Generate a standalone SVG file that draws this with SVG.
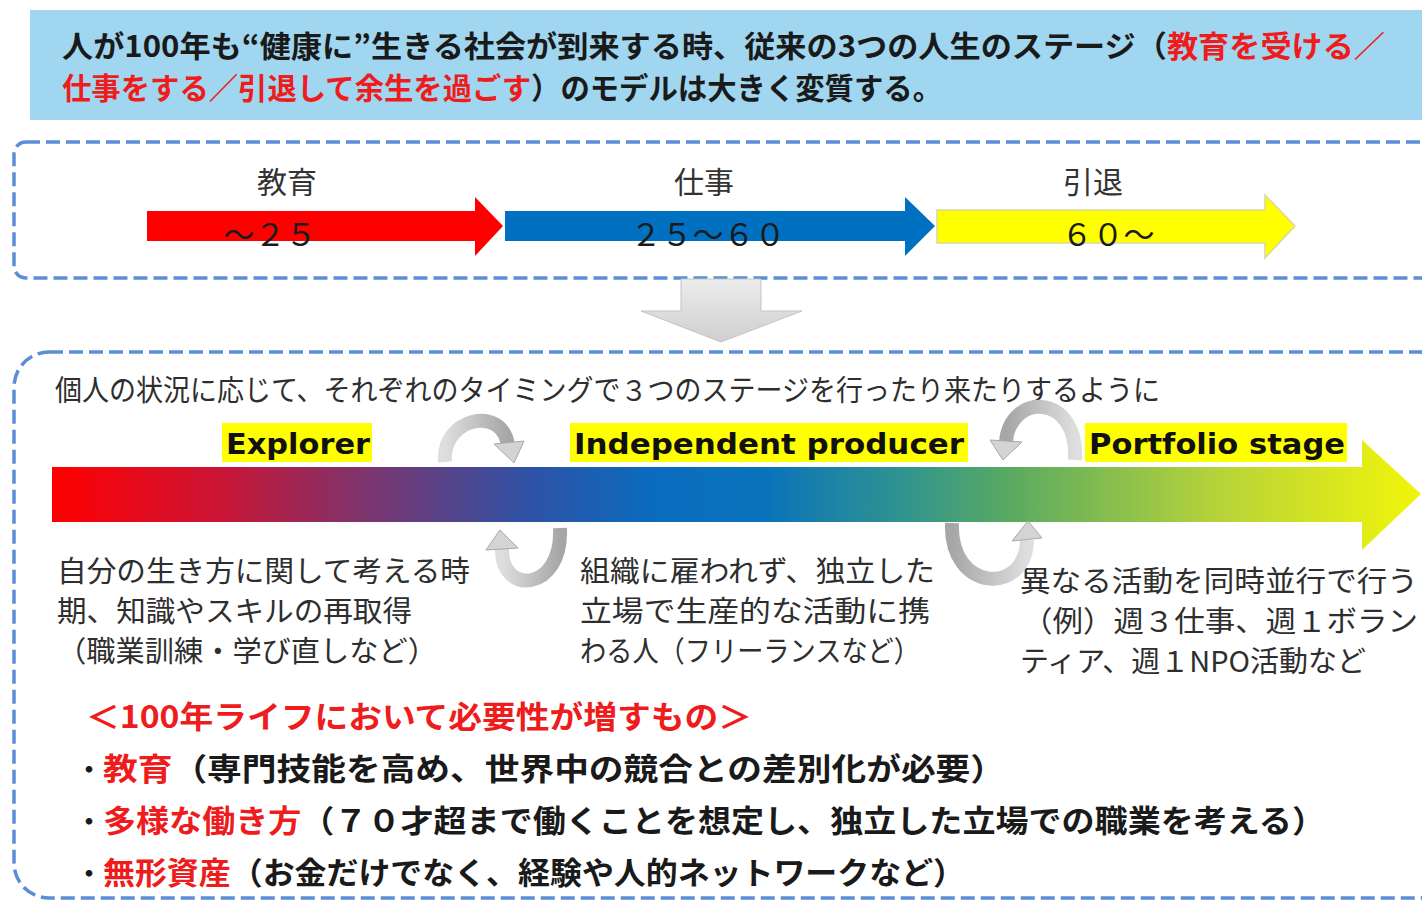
<svg xmlns="http://www.w3.org/2000/svg" width="1422" height="901" viewBox="0 0 1422 901">
<style>
.ban{font-family:"Noto Sans CJK JP",sans-serif;font-weight:700;font-size:30px;fill:#1a1a1a}
.lbl{font-family:"Noto Sans CJK JP",sans-serif;font-size:30px;fill:#333}
.num{font-family:"Noto Sans CJK JP",sans-serif;font-size:31px;fill:#1a1a1a}
.body{font-family:"Noto Sans CJK JP",sans-serif;font-size:29px;fill:#2e2e2e}
.en{font-family:"DejaVu Sans","Liberation Sans",sans-serif;font-weight:700;font-size:29px;fill:#111}
.hl{fill:#ffff00}
.bold{font-family:"Noto Sans CJK JP",sans-serif;font-weight:700;font-size:31px;fill:#1a1a1a}
.dot{font-family:"Noto Sans CJK JP",sans-serif;font-weight:700;font-size:26px;fill:#1a1a1a}
.dash{fill:none;stroke:#5b8ed6;stroke-width:3.5;stroke-dasharray:14 6}
.curve{fill:none;stroke-width:14}
.head{fill:#d4d4d4;stroke:#a8a8a8;stroke-width:1}
.red{fill:#ee1c1c}
</style>
<defs>
<linearGradient id="bar" x1="52" y1="0" x2="1420" y2="0" gradientUnits="userSpaceOnUse">
<stop offset="0" stop-color="#ff0000"/>
<stop offset="0.12" stop-color="#cc1434"/>
<stop offset="0.23" stop-color="#7c356e"/>
<stop offset="0.35" stop-color="#2e52a6"/>
<stop offset="0.44" stop-color="#0a6cbe"/>
<stop offset="0.52" stop-color="#0a72bc"/>
<stop offset="0.62" stop-color="#2f9390"/>
<stop offset="0.70" stop-color="#5aaa62"/>
<stop offset="0.85" stop-color="#b5d23a"/>
<stop offset="1" stop-color="#f2f50a"/>
</linearGradient>
<linearGradient id="gdown" x1="0" y1="0" x2="0" y2="1">
<stop offset="0" stop-color="#ececec"/>
<stop offset="1" stop-color="#cfcfcf"/>
</linearGradient>
<linearGradient id="gcL" x1="0" y1="0" x2="1" y2="0">
<stop offset="0" stop-color="#a6a6a6"/>
<stop offset="1" stop-color="#dedede"/>
</linearGradient>
<linearGradient id="gcR" x1="1" y1="0" x2="0" y2="0">
<stop offset="0" stop-color="#a6a6a6"/>
<stop offset="1" stop-color="#dedede"/>
</linearGradient>
</defs>

<g id="banner">
<rect x="30" y="10" width="1400" height="110" fill="#a0d6ef"/>
<text class="ban" x="62" y="57" textLength="1323" lengthAdjust="spacingAndGlyphs">人が100年も“健康に”生きる社会が到来する時、従来の3つの人生のステージ（<tspan class="red">教育を受ける／</tspan></text>
<text class="ban" x="62" y="99" textLength="880" lengthAdjust="spacingAndGlyphs"><tspan class="red">仕事をする／引退して余生を過ごす</tspan>）のモデルは大きく変質する。</text>
</g>

<g id="traditional-box">
<rect class="dash" x="14" y="142" width="1440" height="136" rx="12"/>
</g>

<g id="stage-education">
<polygon points="147,211 475,211 475,197 503,226 475,256 475,241 147,241" fill="#ff0000"/>
<text class="lbl" x="287" y="193" text-anchor="middle">教育</text>
<text class="num" x="270" y="246" text-anchor="middle">～２５</text>
</g>
<g id="stage-work">
<polygon points="505,211 905,211 905,197 935,226 905,256 905,241 505,241" fill="#0070c0"/>
<text class="lbl" x="704" y="193" text-anchor="middle">仕事</text>
<text class="num" x="708" y="246" text-anchor="middle">２５～６０</text>
</g>
<g id="stage-retire">
<polygon points="937,210 1265,210 1265,195 1295,226 1265,258 1265,243 937,243" fill="#ffff00" stroke="#d8d8a0" stroke-width="1.5"/>
<text class="lbl" x="1093" y="193" text-anchor="middle">引退</text>
<text class="num" x="1108" y="246" text-anchor="middle">６０～</text>
</g>

<g id="down-arrow">
<polygon points="681,279 761,279 761,311 802,311 721,342 641,311 681,311" fill="url(#gdown)" stroke="#c4c4c4" stroke-width="1"/>
</g>

<g id="new-model-box">
<rect class="dash" x="14" y="352" width="1440" height="546" rx="35"/>
<text class="body" x="55" y="401" textLength="1105" lengthAdjust="spacingAndGlyphs">個人の状況に応じて、それぞれのタイミングで３つのステージを行ったり来たりするように</text>
</g>

<g id="gradient-bar">
<polygon points="52,467 1362,467 1362,440 1421,494 1362,550 1362,522 52,522" fill="url(#bar)"/>
</g>

<g id="explorer">
<rect class="hl" x="222" y="423" width="150" height="39"/>
<text class="en" x="226" y="454" textLength="144" lengthAdjust="spacingAndGlyphs">Explorer</text>
<text class="body" x="57" y="582" textLength="413" lengthAdjust="spacingAndGlyphs">自分の生き方に関して考える時</text>
<text class="body" x="57" y="622" textLength="355" lengthAdjust="spacingAndGlyphs">期、知識やスキルの再取得</text>
<text class="body" x="57" y="662" textLength="380" lengthAdjust="spacingAndGlyphs">（職業訓練・学び直しなど）</text>
</g>

<g id="independent-producer">
<rect class="hl" x="570" y="423" width="398" height="39"/>
<text class="en" x="574" y="454" textLength="390" lengthAdjust="spacingAndGlyphs">Independent producer</text>
<text class="body" x="580" y="582" textLength="355" lengthAdjust="spacingAndGlyphs">組織に雇われず、独立した</text>
<text class="body" x="580" y="622" textLength="350" lengthAdjust="spacingAndGlyphs">立場で生産的な活動に携</text>
<text class="body" x="580" y="662" textLength="340" lengthAdjust="spacingAndGlyphs">わる人（フリーランスなど）</text>
</g>

<g id="portfolio-stage">
<rect class="hl" x="1085" y="423" width="262" height="39"/>
<text class="en" x="1089" y="454" textLength="256" lengthAdjust="spacingAndGlyphs">Portfolio stage</text>
<text class="body" x="1020" y="592" textLength="398" lengthAdjust="spacingAndGlyphs">異なる活動を同時並行で行う</text>
<text class="body" x="1022" y="632" textLength="396" lengthAdjust="spacingAndGlyphs">（例）週３仕事、週１ボラン</text>
<text class="body" x="1020" y="672" textLength="346" lengthAdjust="spacingAndGlyphs">ティア、週１NPO活動など</text>
</g>

<g id="connectors">
<path class="curve" stroke="url(#gcR)" d="M445,462 C441,418 503,404 508,446"/>
<polygon class="head" points="494,444 524,441 514,463"/>
<path class="curve" stroke="url(#gcR)" d="M560,528 C563,592 500,596 502,548"/>
<polygon class="head" points="486,550 518,548 500,530"/>
<path class="curve" stroke="url(#gcL)" d="M1075,460 C1079,393 1010,392 1006,442"/>
<polygon class="head" points="990,440 1022,442 1003,460"/>
<path class="curve" stroke="url(#gcL)" d="M952,523 C949,592 1026,596 1027,540"/>
<polygon class="head" points="1012,541 1042,538 1028,521"/>
</g>

<g id="needs">
<text class="bold red" x="86" y="728" textLength="666" lengthAdjust="spacingAndGlyphs">＜100年ライフにおいて必要性が増すもの＞</text>
<text class="dot" x="76" y="779">・</text>
<text class="bold" x="103" y="780" textLength="902" lengthAdjust="spacingAndGlyphs"><tspan class="red">教育</tspan>（専門技能を高め、世界中の競合との差別化が必要）</text>
<text class="dot" x="76" y="831">・</text>
<text class="bold" x="103" y="832" textLength="1222" lengthAdjust="spacingAndGlyphs"><tspan class="red">多様な働き方</tspan>（７０才超まで働くことを想定し、独立した立場での職業を考える）</text>
<text class="dot" x="76" y="883">・</text>
<text class="bold" x="103" y="884" textLength="862" lengthAdjust="spacingAndGlyphs"><tspan class="red">無形資産</tspan>（お金だけでなく、経験や人的ネットワークなど）</text>
</g>
</svg>
